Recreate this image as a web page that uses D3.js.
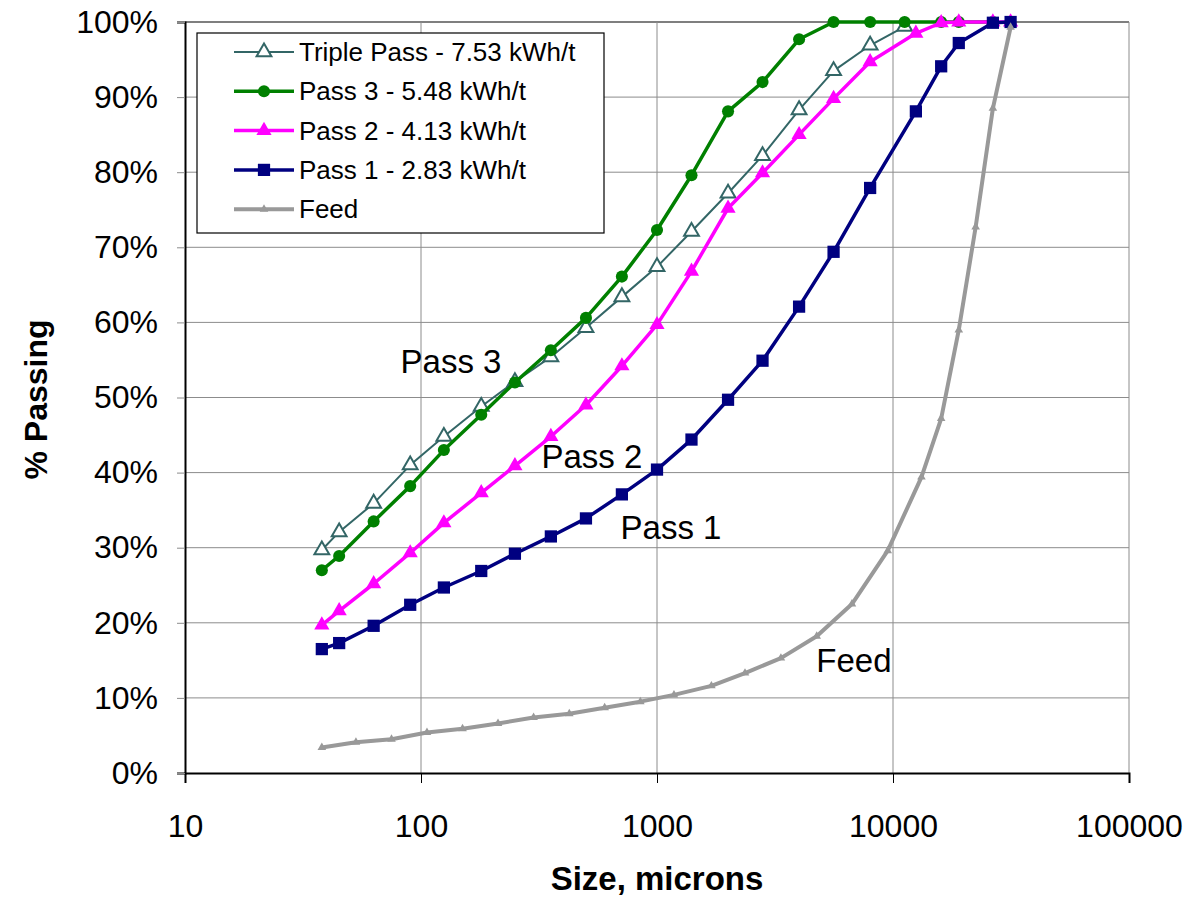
<!DOCTYPE html>
<html>
<head>
<meta charset="utf-8">
<script src="https://cdn.jsdelivr.net/npm/d3@7"></script>
<style>
  body { margin: 0; background: #fff; }
  svg { font-family: "Liberation Sans", Arial, sans-serif; }
</style>
</head>
<body>
<div id="chart"></div>
<script>
// sieve sizes (microns) and % passing
const tripleSizes = [38, 45, 63, 90, 125, 180, 250, 355, 500, 710, 1000, 1400, 2000, 2800, 4000, 5600, 8000, 11200];
const tripleVals  = [29.7, 32.1, 35.9, 41.0, 44.8, 48.8, 52.1, 55.4, 59.3, 63.4, 67.4, 72.1, 77.2, 82.2, 88.3, 93.5, 96.9, 99.4];

const pass3Sizes = [38, 45, 63, 90, 125, 180, 250, 355, 500, 710, 1000, 1400, 2000, 2800, 4000, 5600, 8000, 11200, 16000, 19000, 26500];
const pass3Vals  = [27.0, 28.9, 33.5, 38.2, 43.0, 47.7, 52.0, 56.3, 60.6, 66.1, 72.3, 79.6, 88.1, 92.0, 97.7, 100, 100, 100, 100, 100, 100];

const pass2Sizes = [38, 45, 63, 90, 125, 180, 250, 355, 500, 710, 1000, 1400, 2000, 2800, 4000, 5600, 8000, 12500, 16000, 19000, 26500, 31500];
const pass2Vals  = [19.7, 21.6, 25.2, 29.3, 33.3, 37.3, 40.9, 44.8, 49.0, 54.2, 59.7, 66.8, 75.2, 79.9, 85.0, 89.8, 94.7, 98.5, 99.9, 100, 100, 100];

const pass1Sizes = [38, 45, 63, 90, 125, 180, 250, 355, 500, 710, 1000, 1400, 2000, 2800, 4000, 5600, 8000, 12500, 16000, 19000, 26500, 31500];
const pass1Vals  = [16.5, 17.3, 19.6, 22.4, 24.7, 26.9, 29.2, 31.5, 33.9, 37.1, 40.4, 44.4, 49.7, 54.9, 62.1, 69.4, 77.9, 88.1, 94.1, 97.2, 99.9, 100];

const feedSizes = [38, 53, 75, 106, 150, 212, 300, 425, 600, 850, 1180, 1700, 2360, 3350, 4750, 6700, 9500, 13200, 16000, 19000, 22400, 26500, 31500];
const feedVals  = [3.4, 4.1, 4.5, 5.4, 5.9, 6.6, 7.4, 7.9, 8.7, 9.5, 10.4, 11.6, 13.3, 15.3, 18.2, 22.5, 29.6, 39.4, 47.2, 59.0, 72.7, 88.5, 99.3];

const seriesNames = ['Triple Pass - 7.53 kWh/t', 'Pass 3 - 5.48 kWh/t', 'Pass 2 - 4.13 kWh/t', 'Pass 1 - 2.83 kWh/t', 'Feed'];
const xTicks = [10, 100, 1000, 10000, 100000];
const yTicks = [0, 10, 20, 30, 40, 50, 60, 70, 80, 90, 100];

// text labels placed in data units (size, % passing at baseline)
const curveLabels = [
  {text: 'Pass 3', size: 134, val: 53.2},
  {text: 'Pass 2', size: 530, val: 40.6},
  {text: 'Pass 1', size: 1146, val: 31.2},
  {text: 'Feed', size: 6834, val: 13.4}
];

const series = [
  {name: seriesNames[0], sizes: tripleSizes, vals: tripleVals, color: '#336666', width: 2, symbol: d3.symbolTriangle, area: 95, fill: '#ffffff', sw: 2},
  {name: seriesNames[1], sizes: pass3Sizes, vals: pass3Vals, color: '#008000', width: 3.5, symbol: d3.symbolCircle, area: 115, fill: '#008000', sw: 0},
  {name: seriesNames[2], sizes: pass2Sizes, vals: pass2Vals, color: '#ff00ff', width: 3.5, symbol: d3.symbolTriangle, area: 100, fill: '#ff00ff', sw: 0},
  {name: seriesNames[3], sizes: pass1Sizes, vals: pass1Vals, color: '#000080', width: 3.5, symbol: d3.symbolSquare, area: 150, fill: '#000080', sw: 0},
  {name: seriesNames[4], sizes: feedSizes, vals: feedVals, color: '#999999', width: 4, symbol: d3.symbolTriangle, area: 32, fill: '#999999', sw: 0}
];

const W = 1194, H = 898;
const svg = d3.select('#chart').append('svg').attr('width', W).attr('height', H);

const x = d3.scaleLog().domain([10, 100000]).range([185, 1129]);
const y = d3.scaleLinear().domain([0, 100]).range([773, 22]);

// grid
svg.append('g').selectAll('line').data(yTicks.slice(1)).enter().append('line')
  .attr('x1', x(10)).attr('x2', x(100000))
  .attr('y1', d => y(d)).attr('y2', d => y(d))
  .attr('stroke', d => d === 100 ? '#555' : '#8c8c8c').attr('stroke-width', d => d === 100 ? 1.5 : 1);
svg.append('g').selectAll('line').data(xTicks.slice(1)).enter().append('line')
  .attr('x1', d => x(d)).attr('x2', d => x(d))
  .attr('y1', y(0)).attr('y2', y(100))
  .attr('stroke', '#8c8c8c').attr('stroke-width', 1);

// axes
const xAxis = svg.append('g').attr('transform', `translate(0,${y(0)})`)
  .call(d3.axisBottom(x).tickValues(xTicks).tickFormat(d3.format('d')).tickSize(10).tickPadding(31));
xAxis.select('.domain').attr('stroke', '#000').attr('stroke-width', 2);
xAxis.selectAll('.tick line').attr('stroke', '#000');
xAxis.selectAll('text').attr('font-size', 32).attr('fill', '#000');

const yAxis = svg.append('g').attr('transform', `translate(${x(10)},0)`)
  .call(d3.axisLeft(y).tickValues(yTicks).tickFormat(d => d + '%').tickSize(8).tickPadding(19));
yAxis.select('.domain').attr('stroke', '#000').attr('stroke-width', 2);
yAxis.selectAll('.tick line').attr('stroke', '#8c8c8c');
yAxis.selectAll('text').attr('font-size', 32).attr('fill', '#000');

// axis titles
svg.append('text').attr('x', 657).attr('y', 890).attr('text-anchor', 'middle')
  .attr('font-size', 33).attr('font-weight', 'bold').text('Size, microns');
svg.append('text').attr('transform', `translate(47,${y(50) + 2}) rotate(-90)`).attr('text-anchor', 'middle')
  .attr('font-size', 32).attr('font-weight', 'bold').text('% Passing');

// lines and markers, in series order (feed ends up on top)
const line = d3.line().x(d => x(d[0])).y(d => y(d[1]));
series.forEach(s => {
  const pts = s.sizes.map((v, i) => [v, s.vals[i]]);
  const g = svg.append('g');
  g.append('path').datum(pts).attr('d', line)
    .attr('fill', 'none').attr('stroke', s.color).attr('stroke-width', s.width).attr('stroke-linejoin', 'round');
  g.selectAll('path.m').data(pts).enter().append('path')
    .attr('transform', d => `translate(${x(d[0])},${y(d[1])})`)
    .attr('d', d3.symbol().type(s.symbol).size(s.area))
    .attr('fill', s.fill).attr('stroke', s.sw ? s.color : 'none').attr('stroke-width', s.sw);
});

// curve labels
svg.append('g').selectAll('text').data(curveLabels).enter().append('text')
  .attr('x', d => x(d.size)).attr('y', d => y(d.val))
  .attr('text-anchor', 'middle').attr('font-size', 33).text(d => d.text);

// legend
const leg = svg.append('g').attr('transform', 'translate(197,33)');
leg.append('rect').attr('width', 407).attr('height', 200).attr('fill', '#fff').attr('stroke', '#000').attr('stroke-width', 1.2);
series.forEach((s, i) => {
  const ly = 19 + i * 39.3;
  leg.append('line').attr('x1', 37).attr('x2', 97).attr('y1', ly).attr('y2', ly)
    .attr('stroke', s.color).attr('stroke-width', s.width);
  leg.append('path').attr('transform', `translate(67,${ly})`)
    .attr('d', d3.symbol().type(s.symbol).size(s.area))
    .attr('fill', s.fill).attr('stroke', s.sw ? s.color : 'none').attr('stroke-width', s.sw);
  leg.append('text').attr('x', 102).attr('y', ly + 9).attr('font-size', 26).text(s.name);
});
</script>
</body>
</html>
